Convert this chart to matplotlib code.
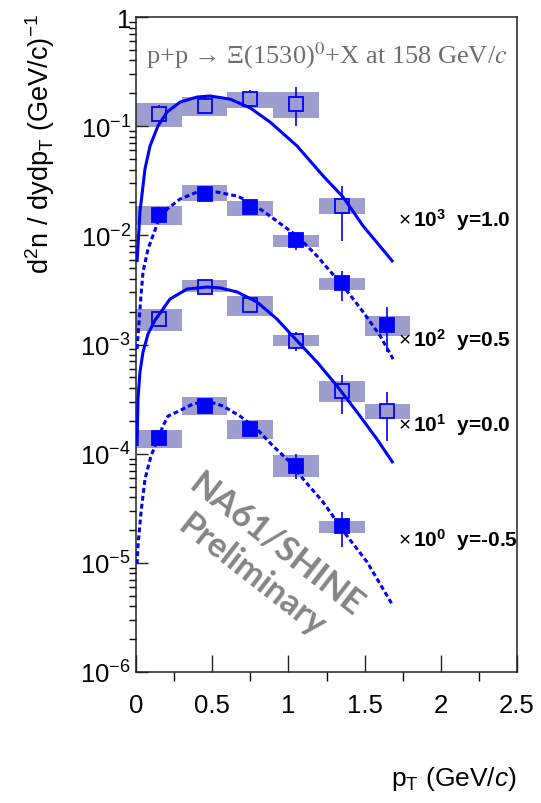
import numpy as np
import matplotlib
matplotlib.use("Agg")
import matplotlib.pyplot as plt
from matplotlib.ticker import MultipleLocator, LogLocator, FuncFormatter, NullFormatter

plt.rcParams['font.family'] = ['Liberation Sans', 'DejaVu Sans']
plt.rcParams['mathtext.fontset'] = 'custom'
plt.rcParams['mathtext.rm'] = 'Liberation Sans'
plt.rcParams['mathtext.it'] = 'Liberation Sans:italic'
plt.rcParams['mathtext.bf'] = 'Liberation Sans:bold'

# ---------------------------------------------------------------- data
# pT bin centres (GeV/c), each bin is 0.3 GeV/c wide
pt_bins = [0.15, 0.45, 0.75, 1.05, 1.35, 1.65]
bin_width = 0.3

# unscaled d2n/dydpT spectra; stat = error bar range, sys = box range
# y = 1.0  (drawn x 10^3)
y10_val = [1.29e-4, 1.53e-4, 1.77e-4, 1.60e-4, 1.86e-5]
y10_stat_lo = [1.07e-4, 1.29e-4, 1.53e-4, 1.01e-4, 0.89e-5]
y10_stat_hi = [1.55e-4, 1.86e-4, 2.14e-4, 2.28e-4, 2.84e-5]
y10_sys_lo = [0.98e-4, 1.24e-4, 1.47e-4, 1.19e-4, 1.57e-5]
y10_sys_hi = [1.63e-4, 1.85e-4, 2.06e-4, 2.06e-4, 2.19e-5]
y10_fit_pt = [0.007, 0.026, 0.059, 0.092, 0.144, 0.204, 0.289, 0.401, 0.486,
              0.617, 0.749, 0.880, 1.057, 1.228, 1.359, 1.490, 1.687]
y10_fit_val = [5.7e-6, 1.64e-5, 4.06e-5, 6.58e-5, 1.005e-4, 1.35e-4, 1.66e-4,
               1.85e-4, 1.89e-4, 1.77e-4, 1.47e-4, 1.09e-4, 6.58e-5, 3.50e-5,
               2.24e-5, 1.22e-5, 5.7e-6]

# y = 0.5  (drawn x 10^2)
y05_val = [1.54e-4, 2.39e-4, 1.82e-4, 9.1e-5, 3.66e-5, 1.5e-5]
y05_stat_lo = [1.30e-4, 2.15e-4, 1.65e-4, 7.4e-5, 2.5e-5, 0.85e-5]
y05_stat_hi = [1.82e-4, 2.65e-4, 2.00e-4, 1.06e-4, 4.7e-5, 2.21e-5]
y05_sys_lo = [1.25e-4, 2.06e-4, 1.50e-4, 7.8e-5, 3.15e-5, 1.19e-5]
y05_sys_hi = [1.86e-4, 2.89e-4, 2.06e-4, 1.01e-4, 4.08e-5, 1.84e-5]
y05_fit_pt = [0.007, 0.031, 0.046, 0.079, 0.144, 0.204, 0.289, 0.401, 0.532,
              0.663, 0.749, 0.880, 1.057, 1.188, 1.273, 1.359, 1.490, 1.602,
              1.687]
y05_fit_val = [9.1e-6, 2.61e-5, 4.61e-5, 7.5e-5, 1.325e-4, 1.74e-4, 2.15e-4,
               2.49e-4, 2.49e-4, 2.29e-4, 2.02e-4, 1.50e-4, 9.86e-5, 6.47e-5,
               4.71e-5, 3.44e-5, 1.99e-5, 1.20e-5, 7.36e-6]

# y = 0.0  (drawn x 10^1)
y00_val = [1.71e-4, 3.37e-4, 2.30e-4, 1.08e-4, 3.76e-5, 2.47e-5]
y00_stat_lo = [1.50e-4, 3.00e-4, 2.05e-4, 0.87e-4, 2.33e-5, 1.31e-5]
y00_stat_hi = [1.95e-4, 3.80e-4, 2.60e-4, 1.30e-4, 5.3e-5, 3.66e-5]
y00_sys_lo = [1.34e-4, 3.00e-4, 1.84e-4, 0.96e-4, 2.97e-5, 2.09e-5]
y00_sys_hi = [2.10e-4, 3.90e-4, 2.80e-4, 1.22e-4, 4.65e-5, 2.86e-5]
y00_fit_pt = [0.007, 0.013, 0.026, 0.046, 0.079, 0.125, 0.177, 0.223, 0.335,
              0.466, 0.551, 0.663, 0.794, 0.925, 1.057, 1.188, 1.319, 1.450,
              1.581, 1.687]
y00_fit_val = [1.175e-5, 3.17e-5, 5.6e-5, 8.53e-5, 1.25e-4, 1.675e-4, 2.11e-4,
               2.61e-4, 3.22e-4, 3.36e-4, 3.30e-4, 3.03e-4, 2.45e-4, 1.71e-4,
               1.08e-4, 6.9e-5, 4.17e-5, 2.41e-5, 1.36e-5, 8.2e-6]

# y = -0.5  (drawn x 10^0)
ym05_val = [1.40e-4, 2.74e-4, 1.69e-4, 7.7e-5, 2.19e-5]
ym05_stat_lo = [1.22e-4, 2.35e-4, 1.42e-4, 5.8e-5, 1.4e-5]
ym05_stat_hi = [1.60e-4, 3.20e-4, 2.00e-4, 1.0e-4, 2.9e-5]
ym05_sys_lo = [1.13e-4, 2.25e-4, 1.37e-4, 6.1e-5, 1.87e-5]
ym05_sys_hi = [1.65e-4, 3.30e-4, 2.04e-4, 9.7e-5, 2.40e-5]
ym05_fit_pt = [0.007, 0.013, 0.033, 0.059, 0.098, 0.177, 0.210, 0.269, 0.374,
               0.466, 0.571, 0.682, 0.794, 0.899, 1.010, 1.096, 1.227, 1.385,
               1.516, 1.687]
ym05_fit_val = [9.75e-6, 1.43e-5, 2.92e-5, 5.86e-5, 9.5e-5, 1.79e-4, 2.21e-4,
                2.41e-4, 2.85e-4, 3.04e-4, 2.73e-4, 2.21e-4, 1.68e-4, 1.175e-4,
                8.4e-5, 5.87e-5, 3.61e-5, 1.76e-5, 1.02e-5, 4.03e-6]

rapidity_labels = ['y=1.0', 'y=0.5', 'y=0.0', 'y=-0.5']
scale_exponents = [3, 2, 1, 0]

series = [
    dict(val=y10_val, stat=(y10_stat_lo, y10_stat_hi), sys=(y10_sys_lo, y10_sys_hi),
         fit=(y10_fit_pt, y10_fit_val), open_marker=True),
    dict(val=y05_val, stat=(y05_stat_lo, y05_stat_hi), sys=(y05_sys_lo, y05_sys_hi),
         fit=(y05_fit_pt, y05_fit_val), open_marker=False),
    dict(val=y00_val, stat=(y00_stat_lo, y00_stat_hi), sys=(y00_sys_lo, y00_sys_hi),
         fit=(y00_fit_pt, y00_fit_val), open_marker=True),
    dict(val=ym05_val, stat=(ym05_stat_lo, ym05_stat_hi), sys=(ym05_sys_lo, ym05_sys_hi),
         fit=(ym05_fit_pt, ym05_fit_val), open_marker=False),
]

# ---------------------------------------------------------------- style
BLUE = '#0000ff'
BOX = '#9d9dcf'
W, H = 541, 804

fig = plt.figure(figsize=(W / 100, H / 100), dpi=100)
fig.patch.set_facecolor('white')
ax = fig.add_axes([136 / W, 1 - 673 / H, 381 / W, 655 / H])
ax.set_yscale('log')
ax.set_xlim(0, 2.5)
ax.set_ylim(1e-6, 1)

for s, k in zip(series, scale_exponents):
    f = 10.0 ** k
    n = len(s['val'])
    x = np.array(pt_bins[:n])
    val = np.array(s['val']) * f
    slo, shi = (np.array(a) * f for a in s['sys'])
    elo, ehi = (np.array(a) * f for a in s['stat'])
    # systematic boxes
    ax.bar(x, shi - slo, bottom=slo, width=bin_width, color=BOX,
           edgecolor='none', zorder=1)
    # statistical error bars
    ax.vlines(x, elo, ehi, color=BLUE, lw=1.2, zorder=2)
    # markers
    ax.plot(x, val, 's', ms=10.5, mec=BLUE, mew=1.3,
            mfc=BOX if s['open_marker'] else BLUE, zorder=2.5)
    # fitted curve
    fpt = np.array(s['fit'][0])
    fval = np.array(s['fit'][1]) * f
    if s['open_marker']:
        ax.plot(fpt, fval, color=BLUE, lw=2.2, zorder=3, solid_capstyle='butt')
    else:
        ax.plot(fpt, fval, color=BLUE, lw=2.2, zorder=3, dashes=(1.6, 1.0))

# axes decoration
for sp in ax.spines.values():
    sp.set_linewidth(1.1)
    sp.set_color('#222222')

ax.xaxis.set_major_locator(MultipleLocator(0.5))
ax.xaxis.set_minor_locator(MultipleLocator(0.25))
ax.xaxis.set_major_formatter(FuncFormatter(lambda v, p: '%g' % v))
ax.yaxis.set_major_locator(LogLocator(base=10, numticks=10))
ax.yaxis.set_minor_locator(LogLocator(base=10, subs=np.arange(2, 10), numticks=20))
ax.yaxis.set_minor_formatter(NullFormatter())


def ylab(v, p):
    e = int(round(np.log10(v)))
    return '1' if e == 0 else r'$10^{%d}$' % e


ax.yaxis.set_major_formatter(FuncFormatter(ylab))
ax.tick_params(direction='in', top=False, right=False, labelsize=18.5,
               colors='#222222', labelcolor='black')
ax.tick_params(axis='x', which='major', length=12, width=1.0, pad=15)
ax.tick_params(axis='x', which='minor', length=6.5, width=1.0)
ax.tick_params(axis='y', which='major', length=8.6, width=1.0, pad=3.5)
ax.tick_params(axis='y', which='minor', length=5, width=1.0)

# axis titles
fig.text(40 / W, 1 - 14 / H, r'd$^{2}$n / dydp$_{\rm T}$ (GeV/c)$^{-1}$',
         rotation=90, ha='center', va='top', fontsize=19.5)
fig.text(517 / W, 1 - 779 / H, r'p$_{\rm T}$ (GeV/$c$)',
         ha='right', va='center', fontsize=19)

# reaction
fig.text(146 / W, 1 - 63 / H, 'p+p → Ξ(1530)$^{0}$+X at 158 GeV/$c$',
         family=['Liberation Serif', 'DejaVu Serif'], math_fontfamily='stix',
         fontsize=19, color='#6e6e6e', ha='left', va='baseline')

# rapidity / scale labels
label_rows = [220, 340, 425, 540]
for lab, k, row in zip(rapidity_labels, scale_exponents, label_rows):
    fig.text(398 / W, 1 - row / H, r'$\times\,\mathbf{10^{%d}}$  %s' % (k, lab),
             ha='left', va='center', fontsize=15, fontweight='bold')

# watermark
fig.text(264 / W, 1 - 560 / H, 'NA61/SHINE\nPreliminary', rotation=-38,
         ha='center', va='center', multialignment='center', linespacing=1.3,
         family=['Lato', 'DejaVu Sans'], fontweight='bold', fontsize=25,
         color='#858585', zorder=5)

fig.savefig('out.png', dpi=100, facecolor='white')
